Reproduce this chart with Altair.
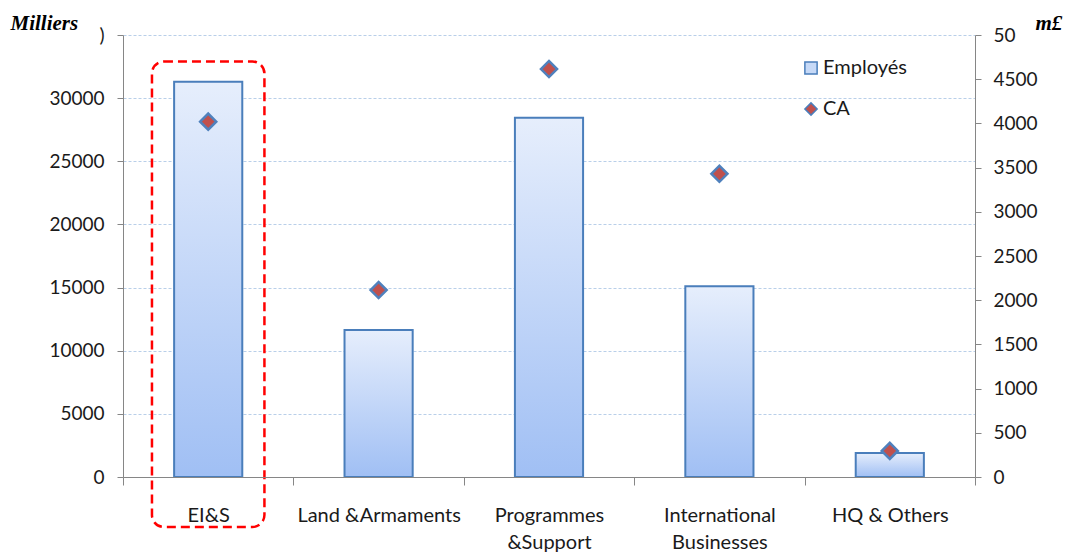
import altair as alt
import pandas as pd

categories = ["EI&S", "Land &Armaments", "Programmes &Support", "International Businesses", "HQ & Others"]
tick_labels = [["EI&S"], ["Land &Armaments"], ["Programmes", "&Support"], ["International", "Businesses"], ["HQ & Others"]]
employes = [31300, 11650, 28450, 15100, 1900]
ca = [4020, 2115, 4615, 3430, 295]
series_names = ["Employés", "CA"]
highlight = ["EI&S"]
highlight_top = [32900]
highlight_bottom = [-3960]

df_bar = pd.DataFrame({"cat": categories, "emp": employes})
df_pt = pd.DataFrame({"cat": categories, "ca": ca, "series": ["CA"] * len(categories)})
df_hl = pd.DataFrame({"cat": highlight, "top": highlight_top, "bottom": highlight_bottom})

label_expr = " : ".join(
    [f"datum.value == '{c}' ? {lbl}" for c, lbl in zip(categories, tick_labels)]
) + " : datum.label"

FONT = "Lato"
TFONT = "Liberation Serif"

xenc = alt.X(
    "cat:N",
    sort=categories,
    scale=alt.Scale(domain=categories, paddingInner=0, paddingOuter=0),
    axis=alt.Axis(
        title=None, labelAngle=0, labelAlign="center", labelBaseline="top",
        tickBand="extent", tickSize=8,
        labelPadding=20, labelExpr=label_expr, labelLineHeight=27,
        domainColor="#868686", tickColor="#868686", labelFont=FONT,
        labelFontSize=20, labelColor="#1a1a1a", grid=False,
    ),
)

gradient = alt.LinearGradient(
    gradient="linear",
    stops=[alt.GradientStop(color="#e6eefc", offset=0),
           alt.GradientStop(color="#a0bff4", offset=1)],
    x1=0, x2=0, y1=0, y2=1,
)

left_scale = alt.Scale(domain=[0, 35000], nice=False, zero=True)

bars = alt.Chart(df_bar).mark_bar(
    fill=gradient, stroke="#4a7ebb", strokeWidth=2,
    width=alt.RelativeBandSize(0.4),
).encode(
    x=xenc,
    y=alt.Y(
        "emp:Q", scale=left_scale,
        axis=alt.Axis(
            orient="left", title="Milliers", titleAngle=0, titleAlign="left",
            titleBaseline="alphabetic", titleX=-113, titleY=-6,
            titleFont=TFONT, titleFontSize=21, titleFontStyle="italic",
            titleFontWeight="bold", titleColor="#000000",
            values=list(range(0, 35001, 5000)), format="d",
            labelExpr="datum.value == 35000 ? ')' : datum.label",
            labelFont=FONT, labelFontSize=19, labelColor="#1a1a1a",
            labelPadding=13, tickSize=6, domainColor="#868686",
            tickColor="#868686", grid=True, gridColor="#b9cfe9",
            gridDash=[3, 2], gridWidth=1,
        ),
    ),
)

box = alt.Chart(df_hl).mark_rect(
    fill="transparent", stroke="#ff0000", strokeWidth=2.5,
    strokeDash=[9, 5], cornerRadius=12, width=alt.RelativeBandSize(0.66),
).encode(
    x=alt.X("cat:N", sort=categories),
    y=alt.Y("top:Q", scale=left_scale),
    y2="bottom:Q",
)

points = alt.Chart(df_pt).mark_point(
    filled=True, size=260, stroke="#4f81bd", strokeWidth=2.5, opacity=1,
).encode(
    x=alt.X("cat:N", sort=categories),
    y=alt.Y(
        "ca:Q", scale=alt.Scale(domain=[0, 5000], nice=False),
        axis=alt.Axis(
            orient="right", title="m£", titleAngle=0, titleAlign="left",
            titleBaseline="alphabetic", titleX=60, titleY=-6,
            titleFont=TFONT, titleFontSize=21, titleFontStyle="italic",
            titleFontWeight="bold", titleColor="#000000",
            values=list(range(0, 5001, 500)), format="d",
            labelExpr="datum.value == 5000 ? '50' : datum.label",
            labelFont=FONT, labelFontSize=19, labelColor="#1a1a1a",
            labelPadding=12, tickSize=6, domainColor="#868686",
            tickColor="#868686", grid=False,
        ),
    ),
    color=alt.Color(
        "series:N",
        scale=alt.Scale(domain=series_names, range=["#c6d9f7", "#c0504d"]),
        legend=alt.Legend(
            title=None, orient="none", legendX=678, legendY=23,
            labelFont=FONT, labelFontSize=20, labelColor="#1a1a1a",
            symbolStrokeColor="#4a7ebb", symbolStrokeWidth=1.5,
            symbolSize=150, rowPadding=21, labelOffset=2,
        ),
    ),
    shape=alt.Shape(
        "series:N",
        scale=alt.Scale(domain=series_names, range=["square", "diamond"]),
    ),
)

chart = alt.layer(
    alt.layer(box, bars),
    points,
).resolve_scale(y="independent").properties(
    width=852, height=442,
    autosize=alt.AutoSizeParams(type="none"),
    padding={"left": 123, "top": 35, "right": 91, "bottom": 75},
).configure_view(strokeWidth=0)

chart.save("out.html", embed_options={"renderer": "svg", "actions": False})
